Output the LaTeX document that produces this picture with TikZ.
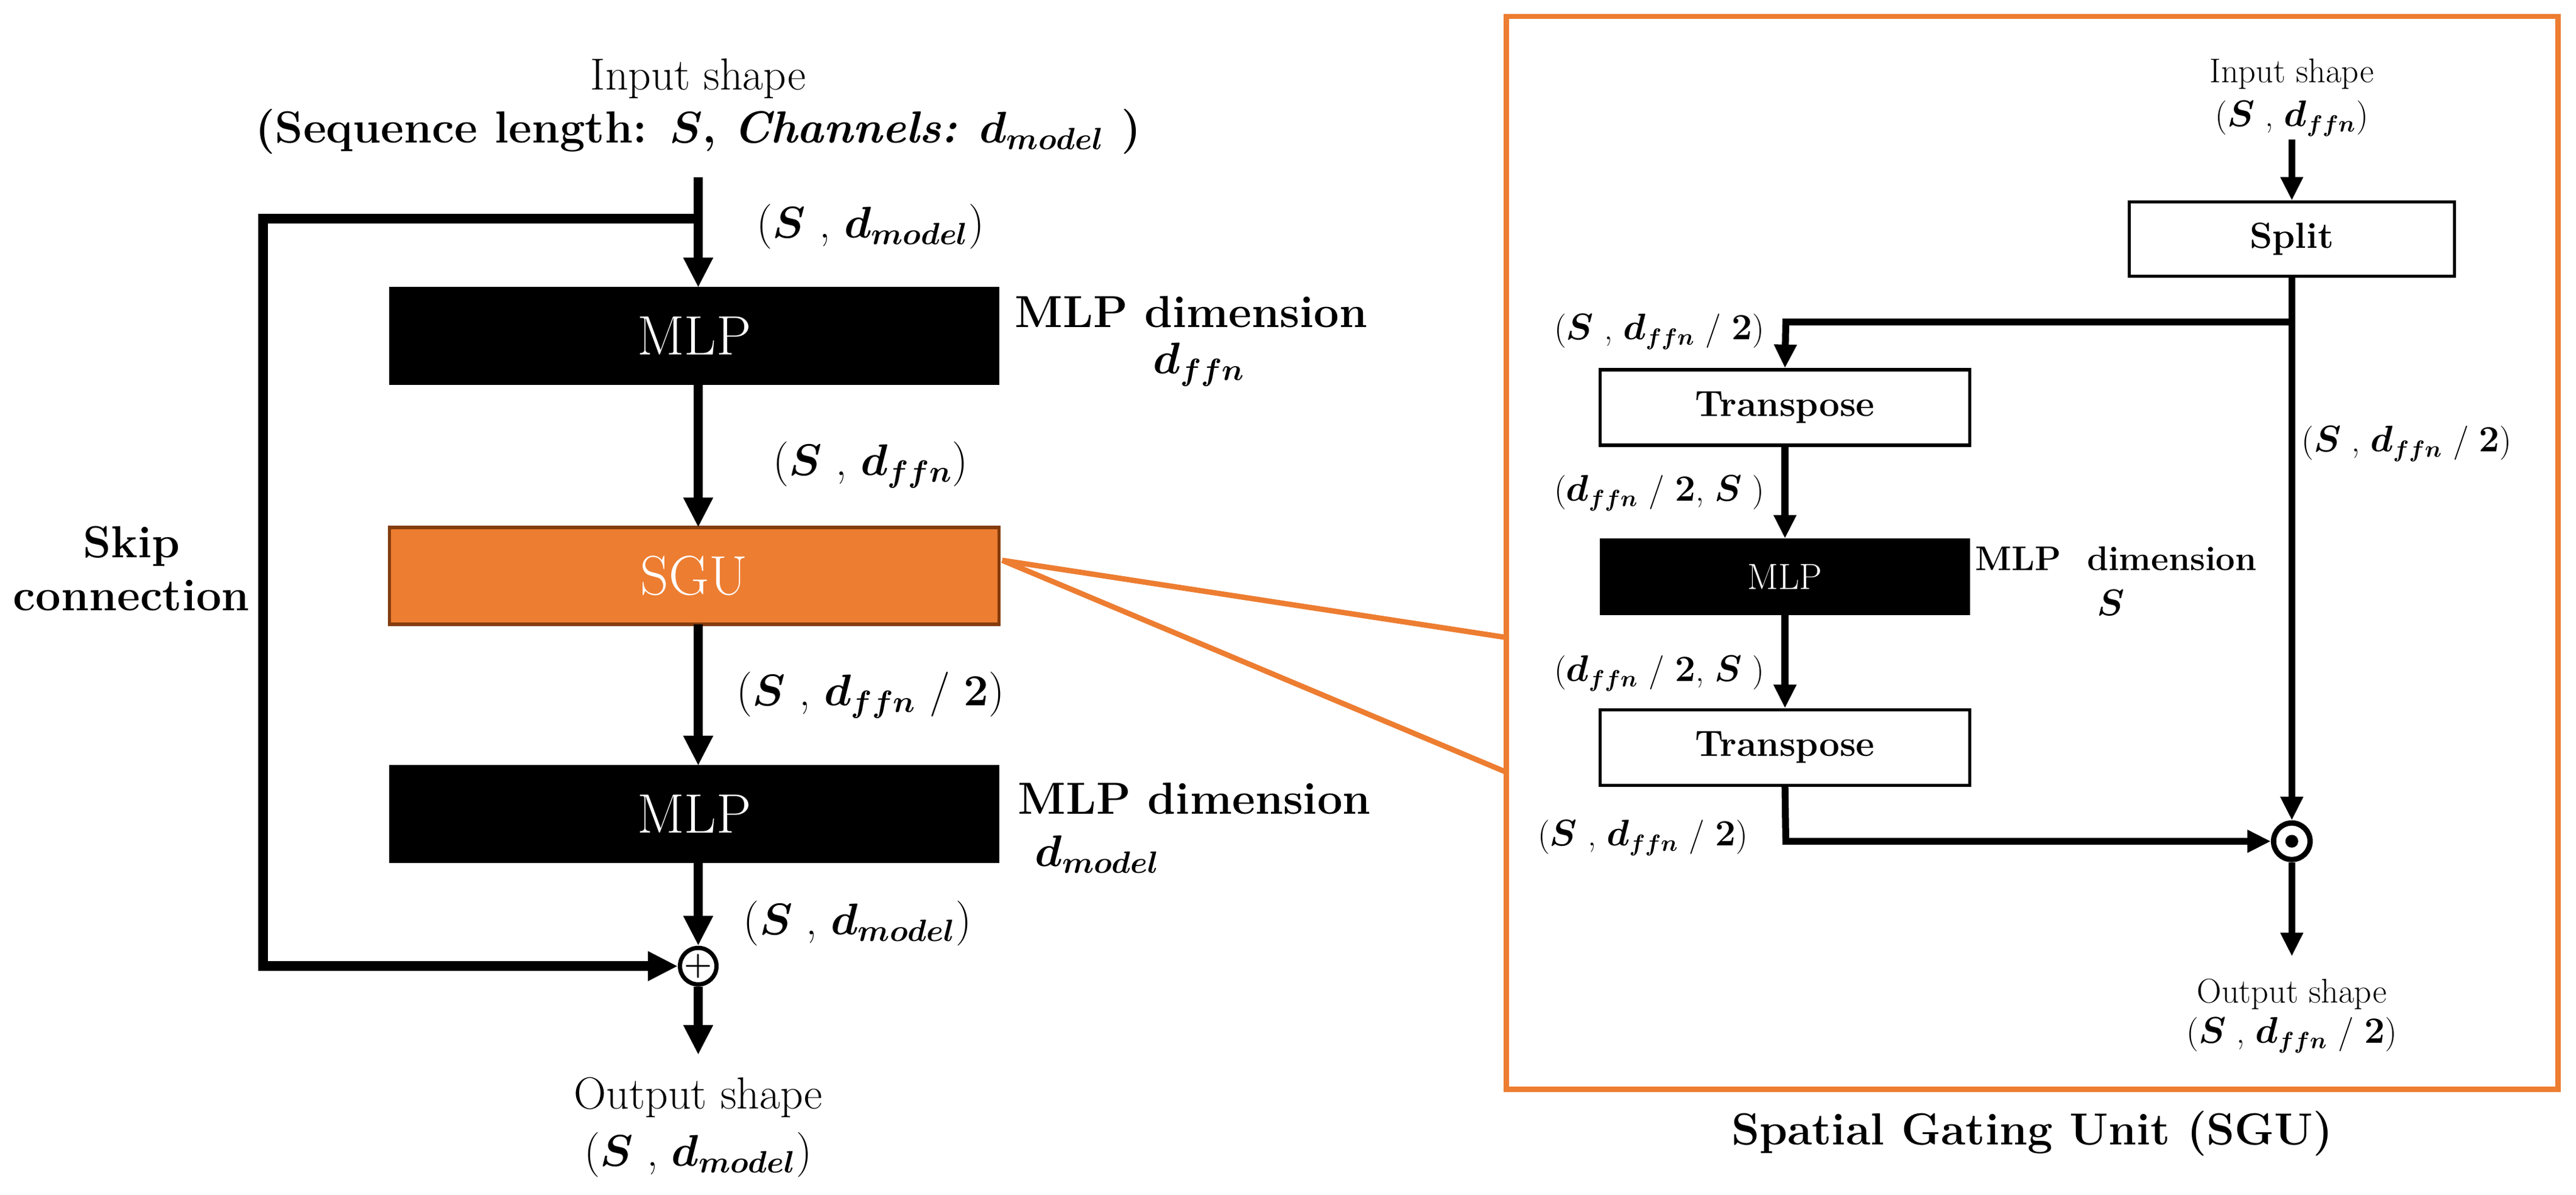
\documentclass[tikz,border=0pt]{standalone}
\usepackage{amsmath,bm}
\usetikzlibrary{arrows.meta}
\definecolor{org}{HTML}{ED7D31}
\definecolor{brn}{HTML}{843C0C}
\newcommand{\bS}{\bm{S}}
\newcommand{\dffn}{\bm{d_{ffn}}}
\newcommand{\dmod}{\bm{d_{model}}}
\begin{document}
\begin{tikzpicture}[x=0.027cm,y=-0.027cm,
  big/.style={line width=4.5pt,-{Triangle[length=14pt,width=13pt]}},
  med/.style={line width=3.2pt,-{Triangle[length=11pt,width=10pt]}},
  L/.style={font=\fontsize{21}{25}\selectfont},
  R/.style={font=\fontsize{16}{19}\selectfont},
  blk/.style={draw=black,fill=black,text=white,inner sep=0pt},
  wb/.style={draw=black,line width=1.5pt,fill=white,inner sep=0pt,font=\fontsize{17}{20}\selectfont\bfseries}]
\useasboundingbox (0,0) rectangle (1568,727);
% left
\node[L] (in) at (425,48) {Input shape};
\node[L,font=\fontsize{21}{25}\selectfont\bfseries] (in2) at (425,80) {(Sequence length: $\bS$, \textit{Channels:} $\dmod$ )};
\coordinate (top) at (425,108);
\coordinate (sk) at (425,133);
\node[blk,minimum width=371\pgflinewidth,font=\fontsize{26}{30}\selectfont] (m1) at (422.5,204.5) {\rule{0pt}{0pt}};
\path[blk] (237,175) rectangle (608,234);
\node[text=white,font=\fontsize{26}{30}\selectfont] (m1) at (422.5,204.5) {MLP};
\path[draw=brn,line width=1.5pt,fill=org] (237,321) rectangle (608,380);
\node[text=white,font=\fontsize{26}{30}\selectfont] (sgu) at (422.5,350.5) {SGU};
\path[blk] (237,466) rectangle (608,525);
\node[text=white,font=\fontsize{26}{30}\selectfont] (m2) at (422.5,495.5) {MLP};
\coordinate (m1t) at (425,175); \coordinate (m1b) at (425,234);
\coordinate (st) at (425,321); \coordinate (sb) at (425,380);
\coordinate (m2t) at (425,466); \coordinate (m2b) at (425,525);
\node[draw,line width=2pt,circle,minimum size=24\pgflinewidth,inner sep=0pt,minimum size=0.6cm] (plus) at (425,588) {};
\draw[line width=1.6pt] (plus.north)++(0,-5)--++(0,-13) (plus.west)++(-5,0)--++(-13,0);
\node[font=\fontsize{15}{15}\selectfont\bfseries] at (425,588) {+};
\draw[big] (top)--(m1t);
\draw[big] (m1b)--(st);
\draw[big] (sb)--(m2t);
\draw[big] (m2b)--(plus.north);
\draw[big] (sk)--(160,133)--(160,588)--(plus.west);
\coordinate (ob) at (425,642);
\draw[big] (plus.south)--(ob);
\node[L] (o1) at (425,668) {Output shape};
\node[L] (o2) at (425,703) {($\bS$ , $\dmod$)};
\node[L] at (530,138) {($\bS$ , $\dmod$)};
\node[L] at (530,283) {($\bS$ , $\dffn$)};
\node[L] at (530,423) {($\bS$ , $\dffn$ / $\bm 2$)};
\node[L] at (522,562) {($\bS$ , $\dmod$)};
\node[L,font=\fontsize{21}{25}\selectfont\bfseries] at (725,190) {MLP dimension};
\node[L] at (730,222) {$\dffn$};
\node[L,font=\fontsize{21}{25}\selectfont\bfseries] at (727,486) {MLP dimension};
\node[L] at (668,520) {$\dmod$};
\node[L,font=\fontsize{21}{25}\selectfont\bfseries,align=center] at (80,346) {Skip\\connection};
% right box
\draw[org,line width=2.5pt] (917,10) rectangle (1557,663);
\coordinate (sr) at (610,341);
\draw[org,line width=2.5pt] (sr)--(917,388) (sr)--(917,470);
\node[font=\fontsize{21}{25}\selectfont\bfseries] at (1237,690) {Spatial Gating Unit (SGU)};
\node[R] at (1395,45) {Input shape};
\node[R] at (1395,72) {($\bS$ , $\dffn$)};
\node[wb,minimum width=198*0.027cm,minimum height=45*0.027cm] (split) at (1395,145.5) {Split};
\node[wb,minimum width=225*0.027cm,minimum height=46*0.027cm] (t1) at (1086.5,248) {Transpose};
\node[blk,minimum width=225*0.027cm,minimum height=46*0.027cm,font=\fontsize{17}{20}\selectfont] (mm) at (1086.5,351) {MLP};
\node[wb,minimum width=225*0.027cm,minimum height=46*0.027cm] (t2) at (1086.5,455) {Transpose};
\node[draw,circle,line width=2.5pt,inner sep=0pt,minimum size=0.6cm] (od) at (1395,512) {};
\fill (od) circle (3pt);
\coordinate (ri) at (1395,85);
\draw[med] (ri)--(split.north);
\coordinate (br) at (1395,196);
\draw[med] (br)--(1087,196)--(t1.north);
\draw[med] (split.south)--(od.north);
\draw[med] (t1.south)--(mm.north);
\draw[med] (mm.south)--(t2.north);
\draw[med] (t2.south)--(1087,512)--(od.west);
\coordinate (ro) at (1395,582);
\draw[med] (od.south)--(ro);
\node[R] at (1395,605) {Output shape};
\node[R] at (1395,630) {($\bS$ , $\dffn$ / $\bm 2$)};
\node[R] at (1010,202) {($\bS$ , $\dffn$ / $\bm 2$)};
\node[R] at (1465,270) {($\bS$ , $\dffn$ / $\bm 2$)};
\node[R] at (1010,300) {($\dffn$ / $\bm 2$, $\bS$ )};
\node[R] at (1010,410) {($\dffn$ / $\bm 2$, $\bS$ )};
\node[R] at (1000,510) {($\bS$ , $\dffn$ / $\bm 2$)};
\node[R,font=\fontsize{16}{19}\selectfont\bfseries] at (1288,340) {MLP\ \ dimension};
\node[R] at (1285,367) {$\bS$};
\end{tikzpicture}
\end{document}
